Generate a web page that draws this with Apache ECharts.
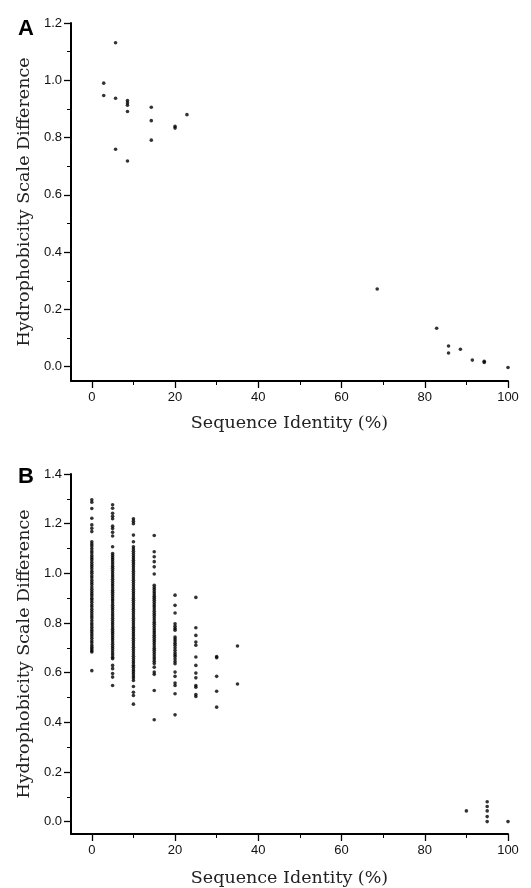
<!DOCTYPE html>
<html>
<head>
<meta charset="utf-8">
<script src="https://cdn.jsdelivr.net/npm/echarts@6/dist/echarts.min.js"></script>
<style>
  html, body { margin: 0; padding: 0; background: #fff; }
  #chart { width: 531px; height: 888px; }
</style>
</head>
<body>
<div id="chart"></div>
<script>
// panel A: sequence identity (%) vs hydrophobicity scale difference
const xA = [2.86, 2.86, 5.71, 5.71, 5.71, 8.57, 8.57, 8.57, 8.57, 8.57, 14.29, 14.29, 14.29, 20, 20, 22.86,
  68.57, 82.86, 85.71, 85.71, 88.57, 91.43, 94.29, 94.29, 100]
const yA = [0.99, 0.947, 1.131, 0.937, 0.759, 0.929, 0.921, 0.913, 0.891, 0.718, 0.906, 0.859, 0.791, 0.839, 0.833, 0.880,
  0.271, 0.134, 0.072, 0.048, 0.061, 0.023, 0.019, 0.015, -0.003]

// panel B: one list of y values per identity column
const colsB = [0, 5, 10, 15, 20, 25, 30, 35, 90, 95, 100]
const b0 = [1.296, 1.286, 1.261, 1.222, 1.195, 1.181, 1.168,
  1.127, 1.118, 1.11, 1.10, 1.09, 1.082, 1.072, 1.063, 1.055, 1.045, 1.035, 1.027, 1.018, 1.008, 1.0, 0.99,
  0.982, 0.972, 0.963, 0.955, 0.945, 0.936, 0.927, 0.918, 0.91, 0.90, 0.892, 0.883, 0.873, 0.865, 0.855,
  0.846, 0.837, 0.828, 0.82, 0.81, 0.80, 0.792, 0.783, 0.773, 0.765, 0.756, 0.747, 0.738, 0.728, 0.72,
  0.71, 0.702, 0.695, 0.688, 0.683, 0.608]
const b5 = [1.276, 1.262, 1.242, 1.23, 1.22, 1.19, 1.18, 1.165, 1.15, 1.107,
  1.08, 1.072, 1.063, 1.055, 1.046, 1.037, 1.028, 1.02, 1.011, 1.002, 0.993, 0.985, 0.976, 0.967, 0.958,
  0.95, 0.941, 0.932, 0.924, 0.915, 0.906, 0.897, 0.889, 0.88, 0.871, 0.862, 0.854, 0.845, 0.836, 0.828,
  0.819, 0.81, 0.801, 0.793, 0.784, 0.775, 0.766, 0.758, 0.749, 0.74, 0.732, 0.723, 0.714, 0.705, 0.697,
  0.688, 0.679, 0.671, 0.662, 0.656, 0.629, 0.616, 0.596, 0.582, 0.548]
const b10 = [1.22, 1.21, 1.20, 1.154, 1.127,
  1.107, 1.098, 1.089, 1.08, 1.071, 1.062, 1.053, 1.044, 1.035, 1.026, 1.017, 1.008, 0.999, 0.99, 0.981,
  0.972, 0.963, 0.954, 0.945, 0.936, 0.927, 0.918, 0.909, 0.90, 0.891, 0.882, 0.873, 0.864, 0.855, 0.846,
  0.837, 0.828, 0.819, 0.81, 0.801, 0.792, 0.783, 0.774, 0.765, 0.756, 0.747, 0.738, 0.729, 0.72, 0.711,
  0.702, 0.693, 0.684, 0.675, 0.666, 0.657, 0.648, 0.64, 0.63, 0.622, 0.612, 0.604, 0.595, 0.586, 0.578,
  0.568, 0.544, 0.521, 0.508, 0.473]
const b15 = [1.152, 1.087, 1.067, 1.047, 1.026, 0.997,
  0.952, 0.943, 0.935, 0.926, 0.917, 0.908, 0.9, 0.891, 0.882, 0.873, 0.865, 0.856, 0.847, 0.838, 0.83,
  0.821, 0.812, 0.803, 0.795, 0.786, 0.777, 0.768, 0.76, 0.751, 0.742, 0.733, 0.725, 0.716, 0.707, 0.698,
  0.69, 0.681, 0.672, 0.663, 0.655, 0.646, 0.637, 0.622, 0.602, 0.593, 0.528, 0.410]
const b20 = [0.912, 0.871, 0.840, 0.797, 0.787, 0.778, 0.771, 0.743, 0.735, 0.727, 0.718, 0.71, 0.70, 0.69,
  0.68, 0.672, 0.665, 0.655, 0.645, 0.636, 0.602, 0.585, 0.558, 0.548, 0.515, 0.430]
const b25 = [0.903, 0.781, 0.750, 0.723, 0.710, 0.663, 0.629, 0.598, 0.579, 0.548, 0.541, 0.512, 0.504]
const b30 = [0.665, 0.660, 0.585, 0.525, 0.461]
const b35 = [0.707, 0.554]
const b90 = [0.043]
const b95 = [0.080, 0.061, 0.043, 0.020, 0.0]
const b100 = [0.0]
const valsB = [b0, b5, b10, b15, b20, b25, b30, b35, b90, b95, b100]

const yTicksA = [0, 0.2, 0.4, 0.6, 0.8, 1.0, 1.2]
const yMinorA = [0.1, 0.3, 0.5, 0.7, 0.9, 1.1]
const yTicksB = [0, 0.2, 0.4, 0.6, 0.8, 1.0, 1.2, 1.4]
const yMinorB = [0.1, 0.3, 0.5, 0.7, 0.9, 1.1, 1.3]
const xTicks = [0, 20, 40, 60, 80, 100]
const xMinor = [10, 30, 50, 70, 90]

const dataA = xA.map((x, i) => [x, yA[i]])
const dataB = []
colsB.forEach((c, i) => valsB[i].forEach(v => dataB.push([c, v])))

const labelFont = { fontFamily: 'Liberation Sans', fontSize: 13, color: '#111' }
const nameFont = { fontFamily: 'DejaVu Serif', fontSize: 17.5, color: '#222' }
const axisLine = { show: true, onZero: false, lineStyle: { color: '#000', width: 2 } }

function xAxisMain(g, gap) {
  return {
    type: 'value', gridIndex: g, min: -5, max: 100,
    name: 'Sequence Identity (%)', nameLocation: 'middle', nameGap: gap, nameTextStyle: nameFont,
    axisLine: axisLine,
    axisTick: { show: true, length: 7, customValues: xTicks, lineStyle: { color: '#000', width: 1.3 } },
    axisLabel: Object.assign({ customValues: xTicks, margin: 10 }, labelFont),
    splitLine: { show: false }
  }
}
function xAxisMinor(g) {
  return {
    type: 'value', gridIndex: g, min: -5, max: 100, position: 'bottom',
    axisLine: { show: false, onZero: false },
    axisTick: { show: true, length: 4, customValues: xMinor, lineStyle: { color: '#000', width: 1 } },
    axisLabel: { show: false }, splitLine: { show: false }
  }
}
function yAxisMain(g, max, ticks) {
  return {
    type: 'value', gridIndex: g, min: -0.05, max: max,
    name: 'Hydrophobicity Scale Difference', nameLocation: 'middle', nameGap: 38, nameTextStyle: nameFont,
    axisLine: axisLine,
    axisTick: { show: true, length: 7, customValues: ticks, lineStyle: { color: '#000', width: 1.3 } },
    axisLabel: Object.assign({ customValues: ticks, margin: 9, formatter: v => v.toFixed(1) }, labelFont),
    splitLine: { show: false }
  }
}
function yAxisMinor(g, max, ticks) {
  return {
    type: 'value', gridIndex: g, min: -0.05, max: max, position: 'left',
    axisLine: { show: false, onZero: false },
    axisTick: { show: true, length: 4, customValues: ticks, lineStyle: { color: '#000', width: 1 } },
    axisLabel: { show: false }, splitLine: { show: false }
  }
}

const chart = echarts.init(document.getElementById('chart'))
chart.setOption({
  animation: false,
  backgroundColor: '#fff',
  title: [
    { text: 'A', left: 13, top: 13, textStyle: { fontFamily: 'Liberation Sans', fontWeight: 'bold', fontSize: 22, color: '#000' } },
    { text: 'B', left: 13, top: 461, textStyle: { fontFamily: 'Liberation Sans', fontWeight: 'bold', fontSize: 22, color: '#000' } }
  ],
  grid: [
    { left: 71, right: 23, top: 23, height: 358 },
    { left: 71, right: 23, top: 474, height: 360 }
  ],
  xAxis: [xAxisMain(0, 33), xAxisMain(1, 35), xAxisMinor(0), xAxisMinor(1)],
  yAxis: [yAxisMain(0, 1.2, yTicksA), yAxisMain(1, 1.4, yTicksB), yAxisMinor(0, 1.2, yMinorA), yAxisMinor(1, 1.4, yMinorB)],
  series: [
    {
      type: 'scatter', xAxisIndex: 0, yAxisIndex: 0, data: dataA, clip: false,
      symbolSize: 3.6, itemStyle: { color: '#000' }
    },
    {
      type: 'scatter', xAxisIndex: 1, yAxisIndex: 1, data: dataB, clip: false,
      symbolSize: 3.6, itemStyle: { color: '#000' }
    }
  ]
})
</script>
</body>
</html>
